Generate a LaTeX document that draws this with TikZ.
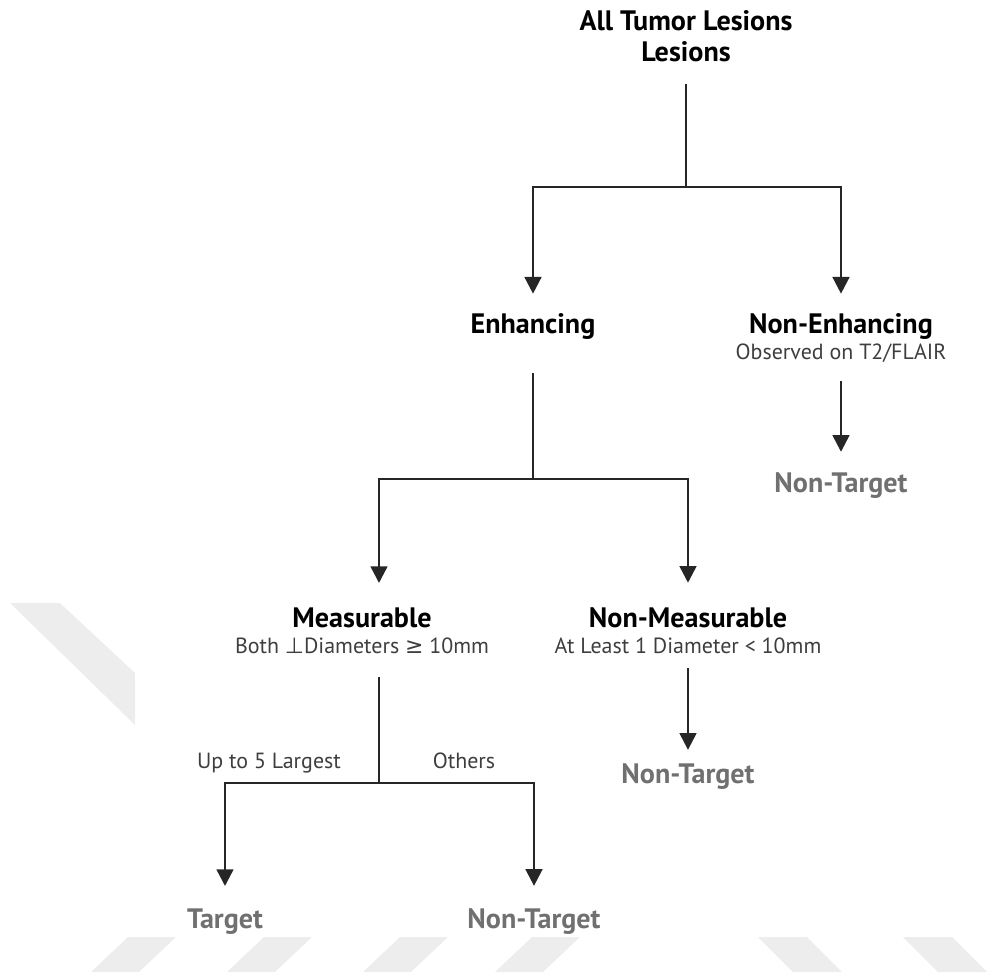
\documentclass[tikz,border=0pt]{standalone}
\usepackage{fontspec}
\setmainfont{PT Sans}
\newfontfamily\symfont{DejaVu Sans}
\usepackage{xcolor}
\usepackage{tikz}
\usetikzlibrary{arrows.meta}

\definecolor{leafgray}{RGB}{112,112,112}
\definecolor{notegray}{RGB}{62,62,62}
\definecolor{stripegray}{RGB}{237,237,237}

\begin{document}
\begin{tikzpicture}[x=0.02cm, y=-0.02cm,
head/.style={font=\bfseries\fontsize{16}{18}\selectfont, text=black, inner sep=0pt, anchor=base},
note/.style={font=\fontsize{12.5}{14}\selectfont, text=notegray, inner sep=0pt, anchor=base},
leaf/.style={head, text=leafgray},
link/.style={line width=1.4pt, draw=black!85},
arrow/.style={link, -{Triangle[width=9.5pt,length=9.5pt]}}]
\useasboundingbox (0,0) rectangle (992,977);

\fill[stripegray] (10,603) -- (60,603) -- (135,673) -- (135,725) -- cycle;
\fill[stripegray] (128,937) -- (176,937) -- (139,972) -- (91,972) -- cycle;
\fill[stripegray] (264,937) -- (312,937) -- (275,972) -- (227,972) -- cycle;
\fill[stripegray] (400,937) -- (448,937) -- (411,972) -- (363,972) -- cycle;
\fill[stripegray] (532,937) -- (580,937) -- (543,972) -- (495,972) -- cycle;
\fill[stripegray] (758,937) -- (807,937) -- (842,972) -- (793,972) -- cycle;
\fill[stripegray] (903,937) -- (952,937) -- (987,972) -- (938,972) -- cycle;

\node[head, anchor=north, align=center] (root) at (686,10) {All Tumor Lesions\\Lesions};
\node[head] (enh) at (533,333) {Enhancing};
\node[head] (nonenh) at (841,333) {Non-Enhancing};
\node[note] (nonenhsub) at (841,359) {Observed on T2/FLAIR};
\node[leaf] (nontgtA) at (841,492) {Non-Target};
\node[head] (meas) at (362,627) {Measurable};
\node[note] (meassub) at (362,653) {Both {\symfont ⊥}Diameters {\symfont ≥} 10mm};
\node[head] (nonmeas) at (688,627) {Non-Measurable};
\node[note] (nonmeassub) at (688,653) {At Least 1 Diameter < 10mm};
\node[leaf] (nontgtB) at (688,783) {Non-Target};
\node[note] (largest) at (269,768) {Up to 5 Largest};
\node[note] (others) at (464,768) {Others};
\node[leaf] (tgt) at (225,928) {Target};
\node[leaf] (nontgtC) at (534,928) {Non-Target};

\coordinate (rootfork) at (686,187);
\coordinate (enhfork) at (533,479);
\coordinate (measfork) at (379,783);
\coordinate (measin) at (379,583);
\coordinate (measout) at (379,677);

\draw[link, shorten <=12pt] (root) -- (rootfork);
\draw[arrow, shorten >=10.8pt] (rootfork) -| (enh);
\draw[arrow, shorten >=10.8pt] (rootfork) -| (nonenh);
\draw[arrow, shorten <=10.8pt, shorten >=11.4pt] (nonenhsub) -- (nontgtA);
\draw[link, shorten <=19pt] (enh) -- (enhfork);
\draw[arrow] (enhfork) -| (measin);
\draw[arrow, shorten >=13.7pt] (enhfork) -| (nonmeas);
\draw[arrow, shorten <=8pt, shorten >=7.4pt] (nonmeassub) -- (nontgtB);
\draw[link] (measout) -- (measfork);
\draw[arrow, shorten >=12.5pt] (measfork) -| (tgt);
\draw[arrow, shorten >=12.5pt] (measfork) -| (nontgtC);
\end{tikzpicture}
\end{document}
